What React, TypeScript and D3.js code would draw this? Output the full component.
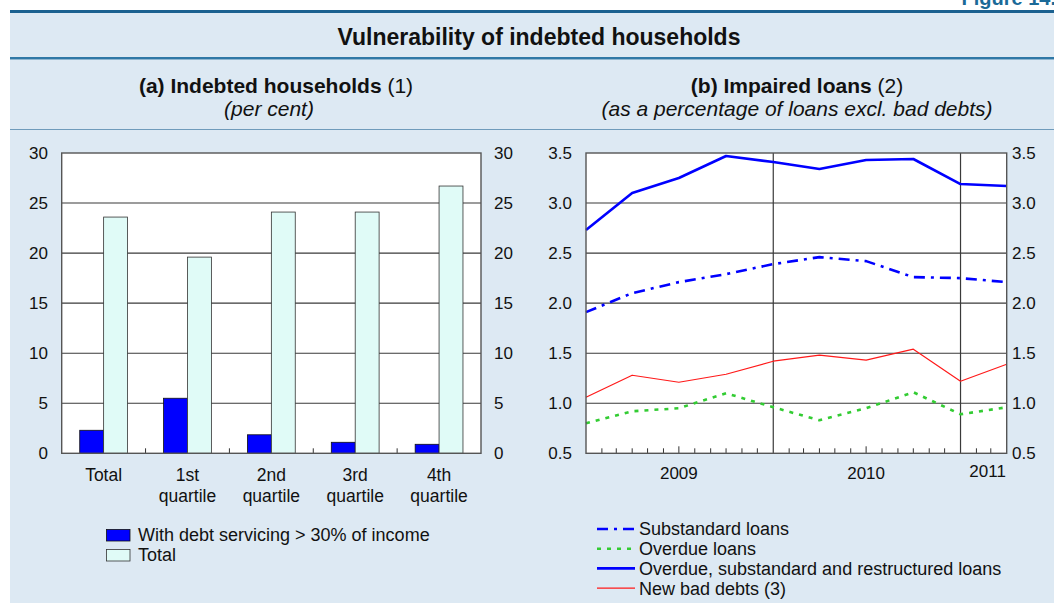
import * as d3 from "d3";

// (a) Indebted households, per cent
const categories = ["Total", "1st\nquartile", "2nd\nquartile", "3rd\nquartile", "4th\nquartile"];
const debtService30 = [2.3, 5.5, 1.85, 1.1, 0.9];
const totalShare = [23.6, 19.6, 24.1, 24.1, 26.7];
const leftTicks = [0, 5, 10, 15, 20, 25, 30];

// (b) Impaired loans, % of loans excl. bad debts (quarterly)
const quarters = [
  "2009-01", "2009-04", "2009-07", "2009-10", "2010-01",
  "2010-04", "2010-07", "2010-10", "2011-01", "2011-04",
];
const substandard = [1.91, 2.1, 2.21, 2.29, 2.39, 2.46, 2.42, 2.26, 2.25, 2.21];
const overdue = [0.8, 0.92, 0.95, 1.1, 0.96, 0.83, 0.95, 1.11, 0.89, 0.96];
const overdueSubRestr = [2.73, 3.1, 3.25, 3.47, 3.41, 3.34, 3.43, 3.44, 3.19, 3.17];
const newBadDebts = [1.06, 1.28, 1.21, 1.29, 1.42, 1.48, 1.43, 1.54, 1.22, 1.39];
const rightTicks = [0.5, 1.0, 1.5, 2.0, 2.5, 3.0, 3.5];
const yearLabels = ["2009", "2010", "2011"];

const FONT = "'Liberation Sans', Arial, Helvetica, sans-serif";
const BG = "#dde9f3";
const BLUE = "#0000ff";
const LIGHT = "#e0fbf7";
const GREEN = "#33cc33";
const RED = "#ff1a1a";
const GRID = "#3a3a3a";

const parseMonth = d3.timeParse("%Y-%m");

function BarPanel() {
  const left = 61.7, right = 481, top = 153, bottom = 453.3;
  const x = d3.scaleBand().domain(categories).range([left, right]).paddingInner(0.43).paddingOuter(0.215);
  const step = x.step();
  const xs = d3.scaleBand().domain(["a", "b"]).range([0, x.bandwidth()]);
  const y = d3.scaleLinear().domain([0, 30]).range([bottom, top]);

  return (
    <g>
      <rect x={left} y={top} width={right - left} height={bottom - top} fill="#fff" />
      {leftTicks.slice(1, -1).map((t) => (
        <line key={t} x1={left} x2={right} y1={y(t)} y2={y(t)} stroke={GRID} strokeWidth={1.1} />
      ))}
      {categories.map((c, i) => (
        <g key={c}>
          <rect x={x(c)! + xs("a")!} y={y(debtService30[i])} width={xs.bandwidth()}
            height={y(0) - y(debtService30[i])} fill={BLUE} stroke="#111" strokeWidth={0.8} />
          <rect x={x(c)! + xs("b")!} y={y(totalShare[i])} width={xs.bandwidth()}
            height={y(0) - y(totalShare[i])} fill={LIGHT} stroke="#333" strokeWidth={0.8} />
        </g>
      ))}
      {categories.slice(1).map((c) => {
        const bx = x(c)! - (step - x.bandwidth()) / 2;
        return <line key={c} x1={bx} x2={bx} y1={bottom} y2={bottom - 5} stroke="#333" strokeWidth={1} />;
      })}
      <rect x={left} y={top} width={right - left} height={bottom - top} fill="none" stroke="#555" strokeWidth={1.4} />
      {leftTicks.map((t) => (
        <g key={t} fontSize={17} fill="#111">
          <text x={48} y={y(t)} dy="0.36em" textAnchor="end">{t}</text>
          <text x={494} y={y(t)} dy="0.36em">{t}</text>
        </g>
      ))}
      {categories.map((c) => (
        <text key={c} x={x(c)! + x.bandwidth() / 2} y={481} textAnchor="middle" fontSize={17.5} fill="#111">
          {c.split("\n").map((s, j) => (
            <tspan key={j} x={x(c)! + x.bandwidth() / 2} dy={j === 0 ? 0 : 21}>{s}</tspan>
          ))}
        </text>
      ))}
      <g fontSize={18} fill="#111">
        <rect x={106.5} y={529.5} width={23.5} height={11.5} fill={BLUE} stroke="#111" strokeWidth={0.8} />
        <text x={138} y={541}>With debt servicing &gt; 30% of income</text>
        <rect x={106.5} y={549.5} width={23.5} height={11.5} fill={LIGHT} stroke="#333" strokeWidth={0.8} />
        <text x={138} y={561}>Total</text>
      </g>
    </g>
  );
}

function LinePanel() {
  const left = 586, right = 1006.7, top = 153, bottom = 453.3;
  const start = parseMonth("2009-01")!, end = parseMonth("2011-04")!;
  const x = d3.scaleTime().domain([start, end]).range([left, right]);
  const y = d3.scaleLinear().domain([0.5, 3.5]).range([bottom, top]);
  const dates = quarters.map((q) => parseMonth(q)!);
  const line = d3.line<number>().x((_, i) => x(dates[i])).y((v) => y(v));
  const months = d3.timeMonth.range(d3.timeMonth.offset(start, 1), end);

  const series = [
    { name: "Substandard loans", data: substandard, color: BLUE, width: 2.6, dash: "11,6,3,6" },
    { name: "Overdue loans", data: overdue, color: GREEN, width: 2.6, dash: "4,6" },
    { name: "Overdue, substandard and restructured loans", data: overdueSubRestr, color: BLUE, width: 2.6, dash: undefined },
    { name: "New bad debts (3)", data: newBadDebts, color: RED, width: 1.2, dash: undefined },
  ];

  const yearPos = [
    x(parseMonth("2009-07")!),
    x(parseMonth("2010-07")!),
    (x(parseMonth("2011-01")!) + right) / 2 + 4,
  ];

  return (
    <g>
      <rect x={left} y={top} width={right - left} height={bottom - top} fill="#fff" />
      {rightTicks.slice(1, -1).map((t) => (
        <line key={t} x1={left} x2={right} y1={y(t)} y2={y(t)} stroke={GRID} strokeWidth={1.1} />
      ))}
      {months.map((m) => {
        const mx = x(m);
        if (m.getMonth() === 0)
          return <line key={+m} x1={mx} x2={mx} y1={top} y2={bottom} stroke={GRID} strokeWidth={1.2} />;
        const len = m.getMonth() === 6 ? 7 : 5;
        return <line key={+m} x1={mx} x2={mx} y1={bottom} y2={bottom - len} stroke="#333" strokeWidth={1} />;
      })}
      {[series[3], series[1], series[0], series[2]].map((s) => (
        <path key={s.name} d={line(s.data)!} fill="none" stroke={s.color} strokeWidth={s.width}
          strokeDasharray={s.dash} strokeLinejoin="round" />
      ))}
      <rect x={left} y={top} width={right - left} height={bottom - top} fill="none" stroke="#555" strokeWidth={1.4} />
      {rightTicks.map((t) => (
        <g key={t} fontSize={17} fill="#111">
          <text x={572} y={y(t)} dy="0.36em" textAnchor="end">{t.toFixed(1)}</text>
          <text x={1012} y={y(t)} dy="0.36em">{t.toFixed(1)}</text>
        </g>
      ))}
      {yearLabels.map((yl, i) => (
        <text key={yl} x={yearPos[i]} y={i === 2 ? 477 : 479} textAnchor="middle" fontSize={17} fill="#111">{yl}</text>
      ))}
      <g fontSize={18} fill="#111">
        {series.map((s, i) => (
          <g key={s.name} transform={`translate(0,${529 + i * 19.7})`}>
            <line x1={597} x2={635} y1={0} y2={0} stroke={s.color} strokeWidth={s.width}
              strokeDasharray={s.dash} />
            <text x={639} y={0} dy="0.36em">{s.name}</text>
          </g>
        ))}
      </g>
    </g>
  );
}

export default function App() {
  return (
    <svg width={1054} height={603} style={{ position: "absolute", left: 0, top: 0, fontFamily: FONT }}>
      <rect width={1054} height={603} fill="#fff" />
      <text x={1056} y={5} textAnchor="end" fontSize={20} fontWeight="bold" fill="#1b6a98">Figure 14.</text>
      <rect x={10} y={12} width={1044} height={591} fill={BG} />
      <rect x={10} y={10} width={1044} height={3} fill="#1b6190" />
      <rect x={10} y={57} width={1044} height={2} fill="#2f78a6" />
      <rect x={10} y={59} width={1044} height={1} fill="#8fb6d0" />
      <line x1={10} x2={1054} y1={129.5} y2={129.5} stroke="#6f9bbb" strokeWidth={1.2} />
      <text x={539} y={45} textAnchor="middle" fontSize={23} fontWeight="bold" fill="#111">
        Vulnerability of indebted households
      </text>
      <text x={276} y={93} textAnchor="middle" fontSize={21} fill="#111">
        <tspan fontWeight="bold">(a) Indebted households</tspan> (1)
      </text>
      <text x={269} y={116} textAnchor="middle" fontSize={21} fontStyle="italic" fill="#111">(per cent)</text>
      <text x={797} y={93} textAnchor="middle" fontSize={21} fill="#111">
        <tspan fontWeight="bold">(b) Impaired loans</tspan> (2)
      </text>
      <text x={797} y={116} textAnchor="middle" fontSize={21} fontStyle="italic" fill="#111">
        (as a percentage of loans excl. bad debts)
      </text>
      <BarPanel />
      <LinePanel />
    </svg>
  );
}
